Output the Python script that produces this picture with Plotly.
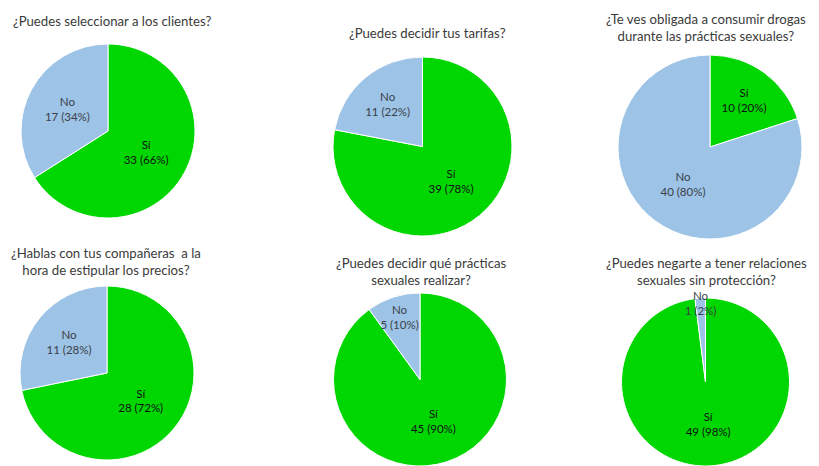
import plotly.graph_objects as go

titles = [
    "¿Puedes seleccionar a los clientes?",
    "¿Puedes decidir tus tarifas?",
    "¿Te ves obligada a consumir drogas<br>durante las prácticas sexuales?",
    "¿Hablas con tus compañeras  a la<br>hora de estipular los precios?",
    "¿Puedes decidir qué prácticas<br>sexuales realizar?",
    "¿Puedes negarte a tener relaciones<br>sexuales sin protección?",
]
labels = ["Sí", "No"]
si_values = [33, 39, 10, 28, 45, 49]
no_values = [17, 11, 40, 11, 5, 1]
si_pct = [66, 78, 20, 72, 90, 98]
no_pct = [34, 22, 80, 28, 10, 2]

OFF = 8  # page body margin
W, H = 819 - OFF, 466 - OFF
# pie boxes in page pixels (x0, x1, y0, y1) top-based
boxes = [(20, 196, 44, 218), (333, 512, 57, 236), (618, 802, 55, 239),
         (19, 195, 286, 460), (332, 508, 293, 469), (618, 793, 298, 473)]
title_pos = [(112, 21), (427, 33), (706, 28), (106, 261), (421, 271), (706, 271)]

GREEN = "#00d600"
BLUE = "#9dc3e6"

fig = go.Figure()
for i in range(6):
    x0, x1, y0, y1 = [v - OFF for v in boxes[i]]
    yd0 = max(0.0, 1 - y1 / H)
    yd1 = min(1.0, 1 - y0 / H)
    texts = [f"{labels[0]}<br>{si_values[i]} ({si_pct[i]}%)",
             f"{labels[1]}<br>{no_values[i]} ({no_pct[i]}%)"]
    fig.add_trace(go.Pie(
        labels=labels,
        values=[si_values[i], no_values[i]],
        text=texts,
        texttemplate="%{text}",
        textposition="inside",
        insidetextorientation="horizontal",
        textfont=dict(family="Lato", size=11.5, color=["#111111", "#3a3f4a"]),
        sort=False,
        direction="clockwise",
        rotation=0,
        marker=dict(colors=[GREEN, BLUE], line=dict(color="white", width=1)),
        domain=dict(x=[x0 / W, x1 / W], y=[yd0, yd1]),
        showlegend=False,
        hoverinfo="label+value+percent",
    ))
    tx, ty = title_pos[i]
    fig.add_annotation(
        text=titles[i], x=(tx - OFF) / W, y=1 - (ty - OFF) / H,
        xref="paper", yref="paper",
        showarrow=False, xanchor="center", yanchor="middle",
        font=dict(family="Lato", size=13.2, color="#3b3b3b"), align="center",
    )

fig.update_layout(
    width=W, height=H, autosize=False,
    margin=dict(l=0, r=0, t=0, b=0),
    paper_bgcolor="white", plot_bgcolor="white",
    uniformtext=dict(minsize=11, mode="show"),
)
fig.write_html("out.html")
